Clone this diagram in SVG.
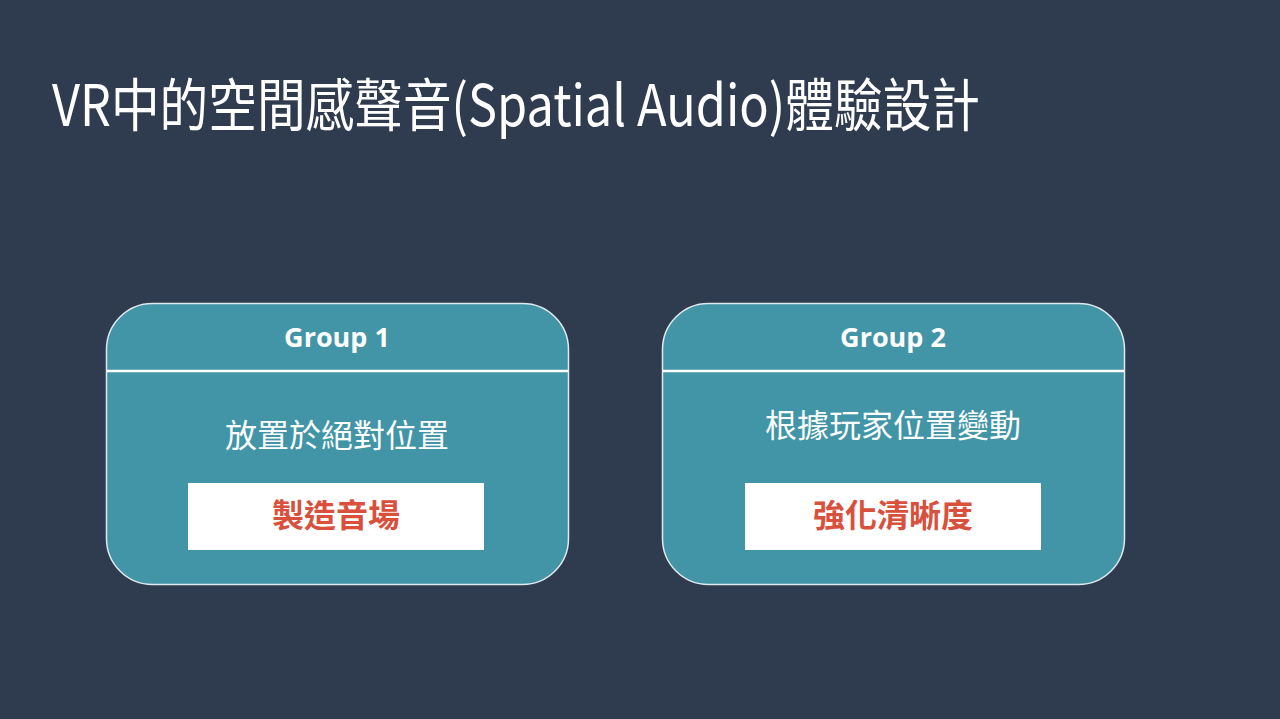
<svg xmlns="http://www.w3.org/2000/svg" width="1280" height="719" viewBox="0 0 1280 719">
<style>
.card{fill:#4195a6;stroke:#dfe9ee;stroke-width:1.5}
.div{stroke:#ffffff;stroke-width:2.5}
.hdr{font-family:"Open Sans","Noto Sans",sans-serif;font-weight:700;font-size:27px;fill:#ffffff;text-anchor:middle}
.sub{font-family:"Noto Sans CJK TC","Noto Sans",sans-serif;font-size:32px;fill:#ffffff;text-anchor:middle}
.tag{fill:#ffffff}
.tagt{font-family:"Noto Sans CJK TC","Noto Sans",sans-serif;font-weight:700;font-size:32px;fill:#d9503c;text-anchor:middle}
.title{font-family:"Noto Sans CJK TC","Noto Sans",sans-serif;font-size:57px;fill:#ffffff}
</style>
<rect x="0" y="0" width="1280" height="719" fill="#2f3b4e"/>
<text class="title" x="52" y="126" textLength="928" lengthAdjust="spacingAndGlyphs">VR中的空間感聲音(Spatial Audio)體驗設計</text>
<g id="group1">
<rect class="card" x="106.5" y="303.5" width="462" height="281" rx="46" ry="46"/>
<line class="div" x1="107" y1="371" x2="568" y2="371"/>
<text class="hdr" x="337" y="347">Group 1</text>
<text class="sub" x="337" y="447">放置於絕對位置</text>
<rect class="tag" x="188" y="483" width="296" height="67"/>
<text class="tagt" x="336" y="527">製造音場</text>
</g>
<g id="group2">
<rect class="card" x="662.5" y="303.5" width="462" height="281" rx="46" ry="46"/>
<line class="div" x1="663" y1="371" x2="1124" y2="371"/>
<text class="hdr" x="893" y="347">Group 2</text>
<text class="sub" x="893" y="437">根據玩家位置變動</text>
<rect class="tag" x="745" y="483" width="296" height="67"/>
<text class="tagt" x="893" y="527">強化清晰度</text>
</g>
<g id="connectors"></g>
</svg>
